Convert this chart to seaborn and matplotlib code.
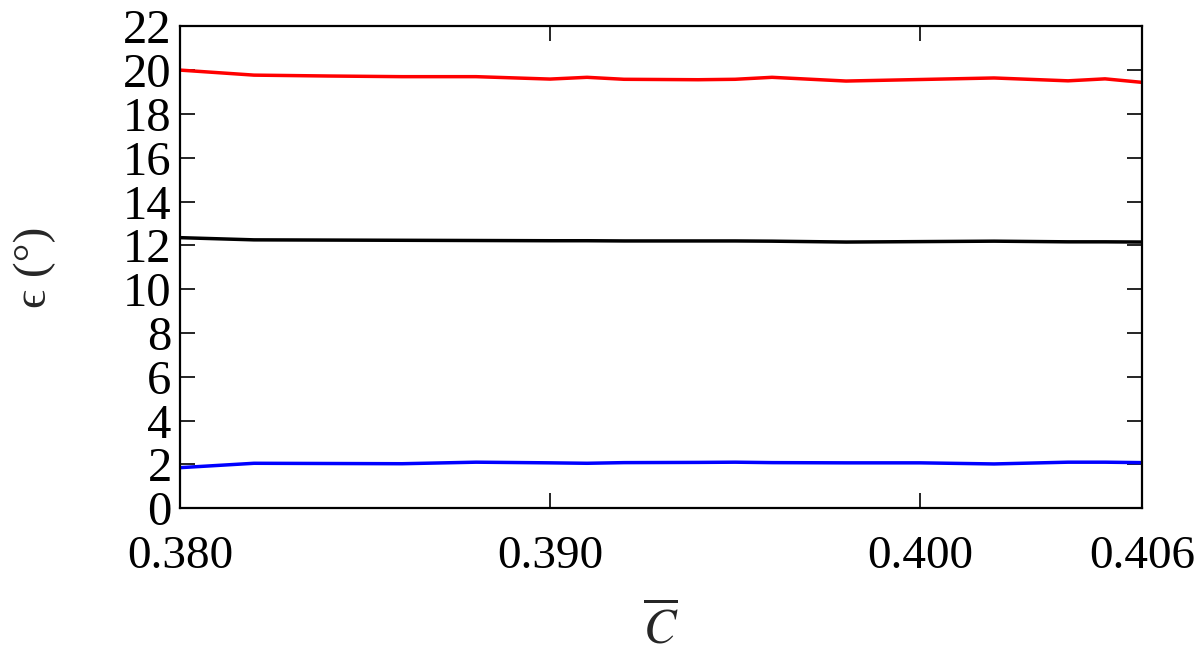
import seaborn as sns
import pandas as pd
import matplotlib.pyplot as plt

# values
c_bar = [0.380, 0.382, 0.384, 0.386, 0.388, 0.390, 0.391, 0.392, 0.394,
         0.395, 0.396, 0.398, 0.400, 0.402, 0.404, 0.405, 0.406]
eps_red = [20.0, 19.77, 19.73, 19.70, 19.70, 19.59, 19.67, 19.58, 19.56,
           19.58, 19.67, 19.50, 19.57, 19.64, 19.51, 19.60, 19.44]
eps_black = [12.35, 12.25, 12.24, 12.23, 12.22, 12.21, 12.21, 12.20, 12.20,
             12.20, 12.19, 12.15, 12.17, 12.19, 12.16, 12.16, 12.15]
eps_blue = [1.85, 2.05, 2.04, 2.03, 2.10, 2.07, 2.05, 2.08, 2.09,
            2.10, 2.08, 2.07, 2.07, 2.02, 2.10, 2.10, 2.08]

x_ticks = [0.380, 0.390, 0.400, 0.406]
x_tick_labels = ["0.380", "0.390", "0.400", "0.406"]
y_ticks = list(range(0, 23, 2))

df = pd.DataFrame({"C": c_bar, "red": eps_red, "black": eps_black, "blue": eps_blue})

sns.set_style("ticks")
plt.rcParams['font.family'] = ['Liberation Serif', 'DejaVu Serif']
plt.rcParams['mathtext.fontset'] = 'stix'

fig = plt.figure(figsize=(12, 6.57), dpi=100)
ax = fig.add_axes([0.15, 0.2265, 0.8017, 0.7335])

# three curves, one call each so they overlay on the same axes
sns.lineplot(data=df, x="C", y="red", color="#ff0000", lw=2.5, ax=ax)
sns.lineplot(data=df, x="C", y="black", color="black", lw=2.5, ax=ax)
sns.lineplot(data=df, x="C", y="blue", color="#0000ff", lw=2.5, ax=ax)

ax.set_xlim(0.380, 0.406)
ax.set_ylim(0, 22)
ax.set_xticks(x_ticks)
ax.set_xticklabels(x_tick_labels)
ax.set_yticks(y_ticks)

ax.tick_params(direction="in", length=11, width=1.2, top=True, right=True,
               colors="black")
ax.tick_params(axis="x", pad=20, labelsize=34)
ax.tick_params(axis="y", pad=6, labelsize=35)
for sp in ax.spines.values():
    sp.set_linewidth(1.6)
    sp.set_color("black")
    sp.set_visible(True)

ax.set_xlabel(r"$\overline{C}$", fontsize=35, labelpad=18)
# lunate epsilon, falls back to DejaVu Serif for the glyph
ax.set_ylabel("\u03f5 (°)", fontsize=34, labelpad=48)

fig.savefig("out.png", dpi=100)
